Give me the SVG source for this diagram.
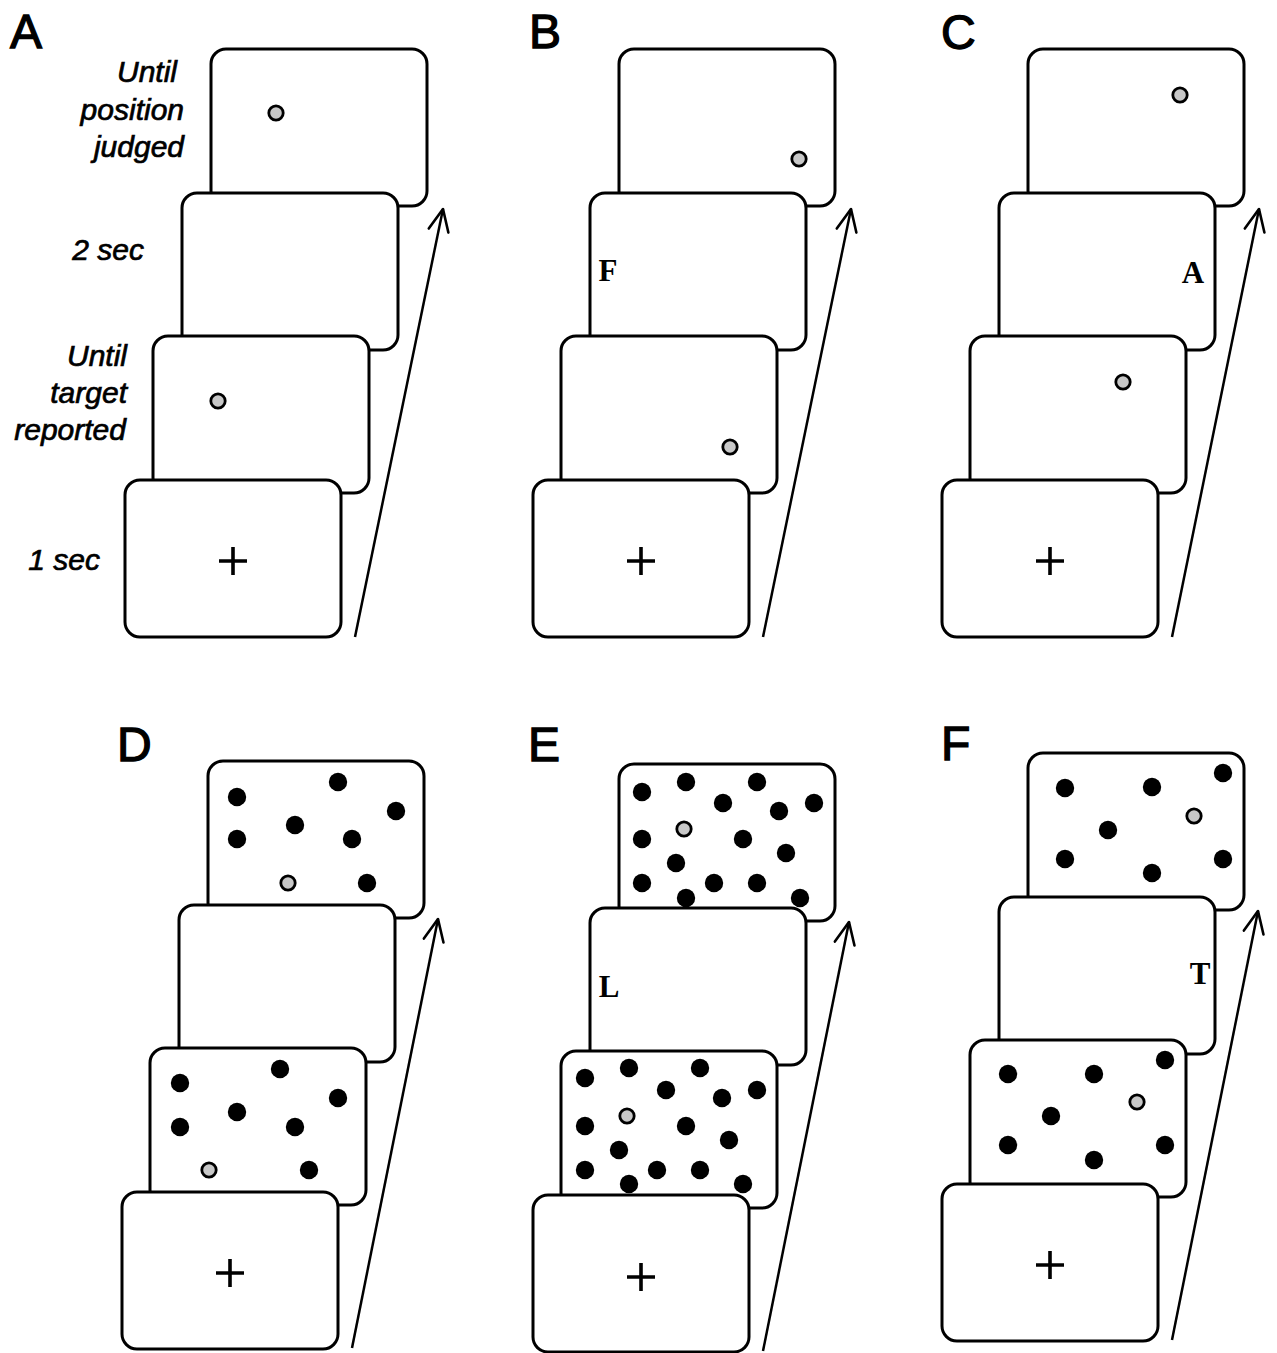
<svg xmlns="http://www.w3.org/2000/svg" width="1277" height="1353" viewBox="0 0 1277 1353">
<style>
.card{fill:#fff;stroke:#000;stroke-width:3}
.dot{fill:#000}
.tgt{fill:#c8c8c8;stroke:#000;stroke-width:2.8}
.plus{stroke:#000;stroke-width:3.6;fill:none}
.lbl{font-family:"Liberation Sans",Arial,sans-serif;font-style:italic;font-size:30px;fill:#000;stroke:#000;stroke-width:0.7;text-anchor:end}
.pl{font-family:"Liberation Sans",Arial,sans-serif;font-size:48px;fill:#000;stroke:#000;stroke-width:1.3}
.let{font-family:"Liberation Serif","Times New Roman",serif;font-weight:bold;font-size:31px;fill:#000;text-anchor:middle}
.arr{stroke:#000;stroke-width:2.5;fill:none}
</style>
<defs>
<marker id="head" viewBox="-26 -14 30 28" markerWidth="30" markerHeight="28" refX="0" refY="0" orient="auto" markerUnits="userSpaceOnUse">
<path d="M-22,-10 L0,0 L-22,10" fill="none" stroke="#000" stroke-width="2.6" stroke-linejoin="round" stroke-linecap="round"/>
</marker>
</defs>
<rect width="1277" height="1353" fill="#fff"/>

<g id="labels">
<text class="pl" x="10" y="48">A</text>
<text class="pl" x="529" y="48">B</text>
<text class="pl" x="941" y="49">C</text>
<text class="pl" x="117" y="761">D</text>
<text class="pl" x="528" y="761">E</text>
<text class="pl" x="941" y="760">F</text>
<text class="lbl" x="177" y="82">Until</text>
<text class="lbl" x="184" y="120">position</text>
<text class="lbl" x="184" y="157">judged</text>
<text class="lbl" x="144" y="260">2 sec</text>
<text class="lbl" x="127" y="366">Until</text>
<text class="lbl" x="127" y="403">target</text>
<text class="lbl" x="126" y="440">reported</text>
<text class="lbl" x="100" y="570">1 sec</text>
</g>

<g id="connectors">
<line class="arr" x1="355" y1="637" x2="443" y2="209" marker-end="url(#head)"/>
<line class="arr" x1="763" y1="637" x2="851" y2="209" marker-end="url(#head)"/>
<line class="arr" x1="1172" y1="637" x2="1259" y2="209" marker-end="url(#head)"/>
<line class="arr" x1="352" y1="1348" x2="438" y2="919" marker-end="url(#head)"/>
<line class="arr" x1="763" y1="1351" x2="849" y2="922" marker-end="url(#head)"/>
<line class="arr" x1="1172" y1="1340" x2="1258" y2="911" marker-end="url(#head)"/>
</g>

<!-- Panel A -->
<g id="A4"><rect class="card" x="211" y="49" width="216" height="157" rx="15"/><circle class="tgt" cx="276" cy="113" r="7.2"/></g>
<g id="A3"><rect class="card" x="182" y="193" width="216" height="157" rx="15"/></g>
<g id="A2"><rect class="card" x="153" y="336" width="216" height="157" rx="15"/><circle class="tgt" cx="218" cy="401" r="7.2"/></g>
<g id="A1"><rect class="card" x="125" y="480" width="216" height="157" rx="15"/><path class="plus" d="M219,561H247M233,547V575"/></g>

<!-- Panel B -->
<g id="B4"><rect class="card" x="619" y="49" width="216" height="157" rx="15"/><circle class="tgt" cx="799" cy="159" r="7.2"/></g>
<g id="B3"><rect class="card" x="590" y="193" width="216" height="157" rx="15"/><text class="let" x="608" y="281">F</text></g>
<g id="B2"><rect class="card" x="561" y="336" width="216" height="157" rx="15"/><circle class="tgt" cx="730" cy="447" r="7.2"/></g>
<g id="B1"><rect class="card" x="533" y="480" width="216" height="157" rx="15"/><path class="plus" d="M627,561H655M641,547V575"/></g>

<!-- Panel C -->
<g id="C4"><rect class="card" x="1028" y="49" width="216" height="157" rx="15"/><circle class="tgt" cx="1180" cy="95" r="7.2"/></g>
<g id="C3"><rect class="card" x="999" y="193" width="216" height="157" rx="15"/><text class="let" x="1193" y="283">A</text></g>
<g id="C2"><rect class="card" x="970" y="336" width="216" height="157" rx="15"/><circle class="tgt" cx="1123" cy="382" r="7.2"/></g>
<g id="C1"><rect class="card" x="942" y="480" width="216" height="157" rx="15"/><path class="plus" d="M1036,561H1064M1050,547V575"/></g>

<!-- Panel D -->
<g id="D4"><rect class="card" x="208" y="761" width="216" height="157" rx="15"/>
<circle class="dot" cx="237" cy="797" r="9.2"/><circle class="dot" cx="338" cy="782" r="9.2"/><circle class="dot" cx="396" cy="811" r="9.2"/><circle class="dot" cx="295" cy="825" r="9.2"/><circle class="dot" cx="237" cy="839" r="9.2"/><circle class="dot" cx="352" cy="839" r="9.2"/><circle class="dot" cx="367" cy="883" r="9.2"/><circle class="tgt" cx="288" cy="883" r="7.2"/></g>
<g id="D3"><rect class="card" x="179" y="905" width="216" height="157" rx="15"/></g>
<g id="D2"><rect class="card" x="150" y="1048" width="216" height="157" rx="15"/>
<circle class="dot" cx="180" cy="1083" r="9.2"/><circle class="dot" cx="280" cy="1069" r="9.2"/><circle class="dot" cx="338" cy="1098" r="9.2"/><circle class="dot" cx="237" cy="1112" r="9.2"/><circle class="dot" cx="180" cy="1127" r="9.2"/><circle class="dot" cx="295" cy="1127" r="9.2"/><circle class="dot" cx="309" cy="1170" r="9.2"/><circle class="tgt" cx="209" cy="1170" r="7.2"/></g>
<g id="D1"><rect class="card" x="122" y="1192" width="216" height="157" rx="15"/><path class="plus" d="M216,1273H244M230,1259V1287"/></g>

<!-- Panel E -->
<g id="E4"><rect class="card" x="619" y="764" width="216" height="157" rx="15"/>
<circle class="dot" cx="642" cy="792" r="9.2"/><circle class="dot" cx="686" cy="782" r="9.2"/><circle class="dot" cx="757" cy="782" r="9.2"/><circle class="dot" cx="723" cy="803" r="9.2"/><circle class="dot" cx="779" cy="811" r="9.2"/><circle class="dot" cx="814" cy="803" r="9.2"/><circle class="dot" cx="642" cy="839" r="9.2"/><circle class="dot" cx="743" cy="839" r="9.2"/><circle class="dot" cx="786" cy="853" r="9.2"/><circle class="dot" cx="676" cy="863" r="9.2"/><circle class="dot" cx="642" cy="883" r="9.2"/><circle class="dot" cx="714" cy="883" r="9.2"/><circle class="dot" cx="757" cy="883" r="9.2"/><circle class="dot" cx="686" cy="898" r="9.2"/><circle class="dot" cx="800" cy="898" r="9.2"/><circle class="tgt" cx="684" cy="829" r="7.2"/></g>
<g id="E3"><rect class="card" x="590" y="908" width="216" height="157" rx="15"/><text class="let" x="609" y="997">L</text></g>
<g id="E2"><rect class="card" x="561" y="1051" width="216" height="157" rx="15"/>
<circle class="dot" cx="585" cy="1078" r="9.2"/><circle class="dot" cx="629" cy="1068" r="9.2"/><circle class="dot" cx="700" cy="1068" r="9.2"/><circle class="dot" cx="666" cy="1090" r="9.2"/><circle class="dot" cx="722" cy="1098" r="9.2"/><circle class="dot" cx="757" cy="1090" r="9.2"/><circle class="dot" cx="585" cy="1126" r="9.2"/><circle class="dot" cx="686" cy="1126" r="9.2"/><circle class="dot" cx="729" cy="1140" r="9.2"/><circle class="dot" cx="619" cy="1150" r="9.2"/><circle class="dot" cx="585" cy="1170" r="9.2"/><circle class="dot" cx="657" cy="1170" r="9.2"/><circle class="dot" cx="700" cy="1170" r="9.2"/><circle class="dot" cx="629" cy="1184" r="9.2"/><circle class="dot" cx="743" cy="1184" r="9.2"/><circle class="tgt" cx="627" cy="1116" r="7.2"/></g>
<g id="E1"><rect class="card" x="533" y="1195" width="216" height="157" rx="15"/><path class="plus" d="M627,1277H655M641,1263V1291"/></g>

<!-- Panel F -->
<g id="F4"><rect class="card" x="1028" y="753" width="216" height="157" rx="15"/>
<circle class="dot" cx="1065" cy="788" r="9.2"/><circle class="dot" cx="1152" cy="787" r="9.2"/><circle class="dot" cx="1223" cy="773" r="9.2"/><circle class="dot" cx="1108" cy="830" r="9.2"/><circle class="dot" cx="1065" cy="859" r="9.2"/><circle class="dot" cx="1152" cy="873" r="9.2"/><circle class="dot" cx="1223" cy="859" r="9.2"/><circle class="tgt" cx="1194" cy="816" r="7.2"/></g>
<g id="F3"><rect class="card" x="999" y="897" width="216" height="157" rx="15"/><text class="let" x="1200" y="984">T</text></g>
<g id="F2"><rect class="card" x="970" y="1040" width="216" height="157" rx="15"/>
<circle class="dot" cx="1008" cy="1074" r="9.2"/><circle class="dot" cx="1094" cy="1074" r="9.2"/><circle class="dot" cx="1165" cy="1060" r="9.2"/><circle class="dot" cx="1051" cy="1116" r="9.2"/><circle class="dot" cx="1008" cy="1145" r="9.2"/><circle class="dot" cx="1094" cy="1160" r="9.2"/><circle class="dot" cx="1165" cy="1145" r="9.2"/><circle class="tgt" cx="1137" cy="1102" r="7.2"/></g>
<g id="F1"><rect class="card" x="942" y="1184" width="216" height="157" rx="15"/><path class="plus" d="M1036,1265H1064M1050,1251V1279"/></g>
</svg>
